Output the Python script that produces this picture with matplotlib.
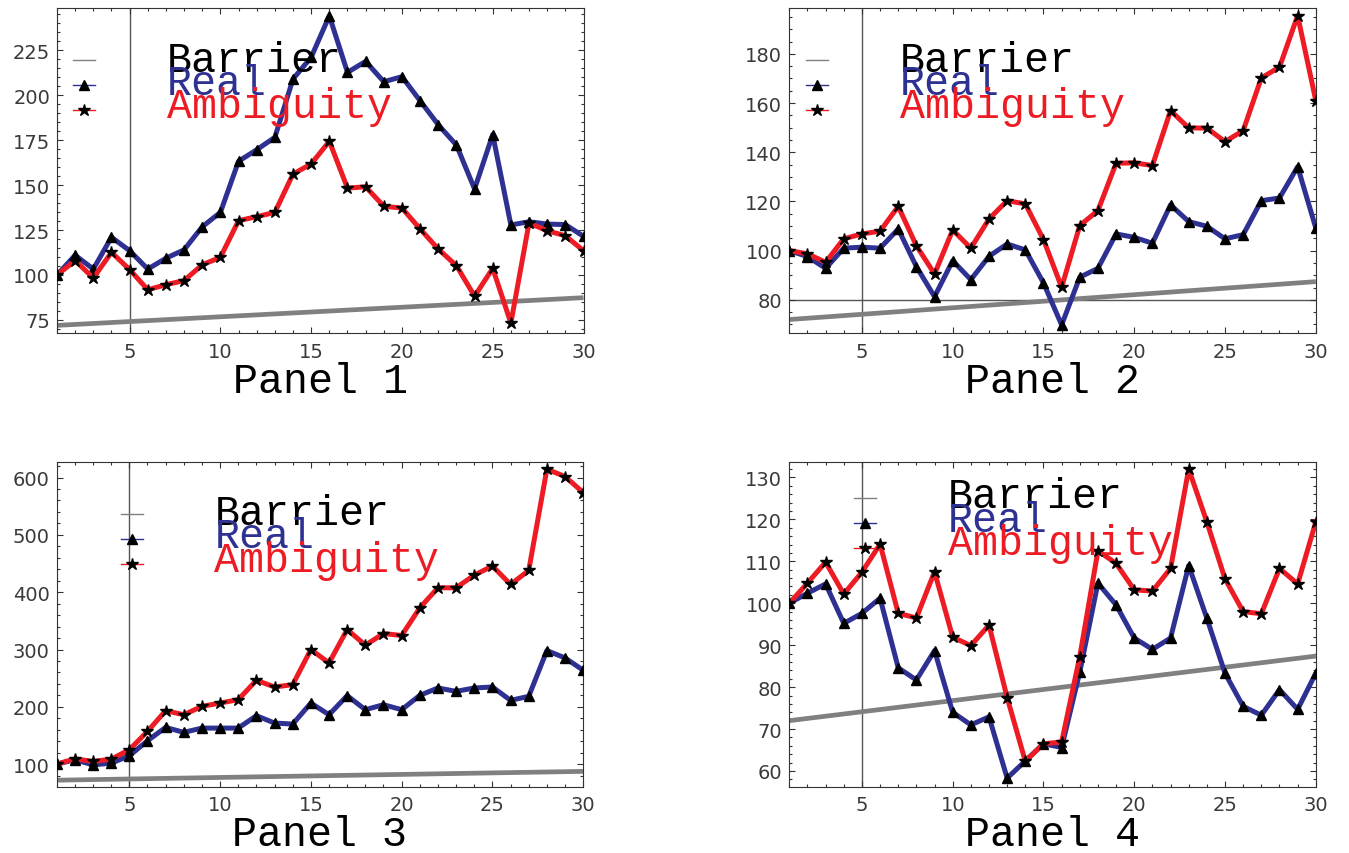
import matplotlib
matplotlib.use("Agg")
import matplotlib.pyplot as plt
from matplotlib.ticker import MultipleLocator
from matplotlib.lines import Line2D

t = list(range(1, 31))

real1 = [100, 111, 103.3, 121, 113.5, 103.3, 109.3, 114, 126.8, 134.8,
         163.2, 169.6, 176.5, 208.9, 221, 244, 212.6, 218.7, 207.4, 210.2,
         196.8, 183.5, 172.2, 147.8, 178, 127.8, 129.6, 128.3, 128, 121.5]
amb1 = [100, 108, 98.3, 112.6, 103, 91.8, 94.6, 96.9, 105.7, 109.8,
        130.2, 132.4, 134.8, 156.1, 161.7, 174.3, 148.3, 149, 138.2, 137.2,
        125.6, 114.4, 105.2, 88.2, 103.7, 73.3, 128.9, 124.6, 121.8, 113.5]

real2 = [100, 97.6, 92.8, 101, 101.4, 101, 108.8, 93.5, 81.3, 95.9,
         88.2, 97.7, 102.7, 100.3, 86.9, 69.8, 89.2, 92.8, 106.8, 105.4,
         103, 118.6, 111.8, 109.9, 104.8, 106.5, 120.3, 121.4, 134.1, 109.2]
amb2 = [100, 98.7, 95.3, 104.8, 106.8, 107.9, 118, 102, 90.5, 108.4,
        101, 112.9, 120.3, 119, 104.5, 85.1, 110.2, 116.3, 135.5, 135.7,
        134.6, 156.9, 149.9, 149.8, 144.3, 148.8, 170.2, 174.6, 195.5, 161]

real3 = [100, 107.6, 98.8, 101.7, 114.6, 140.8, 164.1, 155.4, 162.9, 162.9,
         162.9, 184.5, 171.7, 169.9, 206.6, 186.2, 219.5, 195, 203.7, 195,
         220, 232.9, 227, 232.9, 234.6, 211.3, 218.3, 298.1, 285.3, 263.8]
amb3 = [100, 109.3, 104.7, 108.7, 125.1, 157.1, 193.2, 186.2, 200.8, 206.6,
        212.5, 246.3, 234.6, 238.7, 299.9, 276.6, 334.9, 307.5, 327.9, 324.4,
        372.7, 407.7, 407.7, 429.8, 445.6, 413.5, 438, 614.6, 601.7, 573.8]

real4 = [100, 102.4, 104.6, 95.2, 97.6, 101.2, 84.6, 81.7, 88.7, 74.0,
         71.0, 72.9, 58.3, 62.4, 66.5, 65.6, 83.6, 104.8, 99.6, 91.7,
         89.0, 91.7, 109.0, 96.4, 83.3, 75.4, 73.3, 79.4, 74.7, 83.3]
amb4 = [100, 104.8, 109.8, 102.2, 107.4, 114.1, 97.6, 96.5, 107.5, 91.9,
        89.9, 94.8, 77.5, 62.3, 66.5, 66.9, 87.3, 112.5, 109.5, 103.2,
        102.9, 108.3, 132.0, 119.4, 105.8, 98.0, 97.5, 108.3, 104.6, 119.4]

barrier_t = [1, 30]
barrier = [72, 87.4]

titles = ["Panel 1", "Panel 2", "Panel 3", "Panel 4"]
labels = ["Barrier", "Real", "Ambiguity"]
ylims = [(67.6, 248.2), (66.4, 198.5), (61, 628), (56.3, 133.8)]
ymajor = [25, 20, 100, 10]
yminor = [5, 5, 20, 2]

BLUE = "#2e3192"
RED = "#ed1c24"
GRAY = "#808080"
W, H = 1349, 854
AW, AH = 526.5, 325

# axes corners in pixels (left, top)
corners = [(57, 9.3), (789.3, 9.3), (56.7, 462.5), (789.3, 462.5)]
# legend: marker x offset, first marker y offset, text x offset, first baseline offset
leg = [(27, 51.7, 110, 62.4), (27.4, 51.7, 110.7, 62.4),
       (75, 52, 157.6, 62.7), (75.7, 36, 158.4, 46)]

fig = plt.figure(figsize=(W / 100, H / 100), dpi=100)
data = [(real1, amb1), (real2, amb2), (real3, amb3), (real4, amb4)]

for i in range(4):
    cx, cy = corners[i]
    ax = fig.add_axes([cx / W, (H - cy - AH) / H, AW / W, AH / H])
    real, amb = data[i]
    ax.plot(barrier_t, barrier, color=GRAY, lw=3.4, solid_capstyle="butt", zorder=2)
    ax.plot(t, real, color=BLUE, lw=3.6, zorder=3)
    ax.plot(t, real, ls="none", marker="^", ms=7, color="k", zorder=4)
    ax.plot(t, amb, color=RED, lw=3.6, zorder=5)
    ax.plot(t, amb, ls="none", marker="*", ms=9, color="k", zorder=6)
    ax.axvline(5, color="#555555", lw=1, zorder=1)
    if i == 1:
        ax.axhline(80, color="#555555", lw=1, zorder=1)
    ax.set_xlim(1, 30)
    ax.set_ylim(*ylims[i])
    ax.xaxis.set_major_locator(MultipleLocator(5))
    ax.xaxis.set_minor_locator(MultipleLocator(1))
    ax.yaxis.set_major_locator(MultipleLocator(ymajor[i]))
    ax.yaxis.set_minor_locator(MultipleLocator(yminor[i]))
    ax.tick_params(which="both", direction="in", top=True, right=True,
                   color="#333333", width=0.8, labelsize=14, labelcolor="#3a3a3a")
    ax.tick_params(which="major", length=4)
    ax.tick_params(which="minor", length=2)
    ax.tick_params(axis="y", pad=5)
    ax.tick_params(axis="x", pad=6)
    for s in ax.spines.values():
        s.set_color("#333333")
        s.set_linewidth(0.8)

    ax.text(0.5, -59 / AH, titles[i], transform=ax.transAxes, ha="center",
            va="baseline", fontsize=30, family="Liberation Mono")

    mx, my, tx, ty = leg[i]
    cols = ["k", BLUE, RED]
    lcols = [GRAY, BLUE, RED]
    marks = [None, "^", "*"]
    for k in range(3):
        yy = 1 - (my + k * 25) / AH
        ax.add_line(Line2D([(mx - 11) / AW, (mx + 11) / AW], [yy, yy],
                           transform=ax.transAxes, color=lcols[k], lw=1, zorder=7))
        if marks[k]:
            ax.plot([mx / AW], [yy], transform=ax.transAxes, marker=marks[k],
                    ms=7 if k == 1 else 9, color="k", zorder=8)
        ax.text(tx / AW, 1 - (ty + k * 23.3) / AH, labels[k], transform=ax.transAxes,
                ha="left", va="baseline", fontsize=30, color=cols[k],
                family="Liberation Mono", zorder=9)

fig.savefig("out.png", dpi=100)
